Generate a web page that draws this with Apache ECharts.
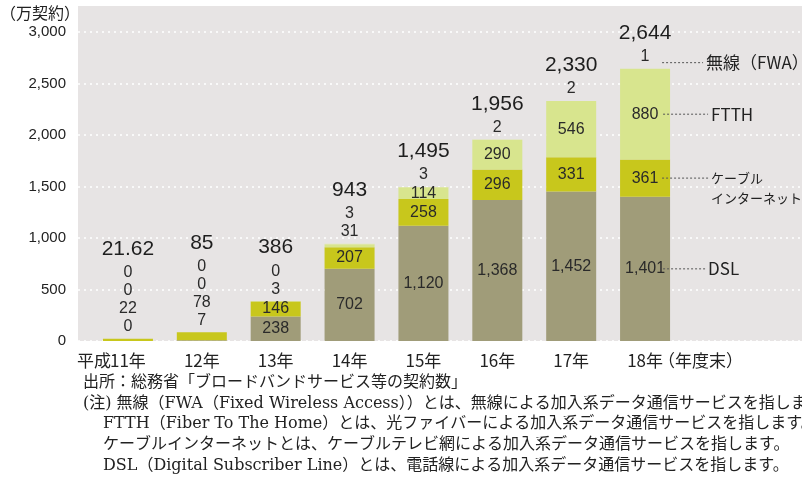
<!DOCTYPE html>
<html>
<head>
<meta charset="utf-8">
<script src="https://cdn.jsdelivr.net/npm/echarts@6/dist/echarts.min.js"></script>
<style>
    html, body { margin: 0; padding: 0; background: #fff; }
    #chart { width: 802px; height: 479px; }
</style>
</head>
<body>
<div id="chart"></div>
<script>
    // 年度末の契約数（万契約）
    const categories = ['平成11年', '12年', '13年', '14年', '15年', '16年', '17年', '18年（年度末）'];
    const dsl = [0, 7, 238, 702, 1120, 1368, 1452, 1401];
    const cable = [22, 78, 146, 207, 258, 296, 331, 361];
    const ftth = [0, 0, 3, 31, 114, 290, 546, 880];
    const fwa = [0, 0, 0, 3, 3, 2, 2, 1];
    const totals = [21.62, 85, 386, 943, 1495, 1956, 2330, 2644];
    // 下から何段目までを棒の中に表示するか
    const insideCount = [0, 0, 2, 2, 3, 3, 3, 3];
    const yMin = 0, yMax = 3000, yStep = 500;

    const numFont = "'Liberation Sans Narrow', 'Liberation Sans', sans-serif";
    const jpFont = "'Noto Sans CJK JP', sans-serif";
    const noteFont = "'DejaVu Serif', 'Noto Sans CJK JP', serif";
    const bgColor = '#e7e4e4';

    function fmt(n) {
        return String(n).replace(/\B(?=(\d{3})+(?!\d))/g, ',');
    }

    // 「平成11年」→「11年」、「18年（年度末）」→「18年」（前後は別に描く）
    function coreLabel(s) {
        return s.replace('平成', '').replace('（年度末）', '');
    }

    function insideLabel(level) {
        return {
            show: true,
            position: 'inside',
            fontFamily: numFont,
            fontSize: 16,
            color: '#2a2a2a',
            formatter: p => insideCount[p.dataIndex] > level ? fmt(p.value) : ''
        };
    }

    let myChart = echarts.init(document.getElementById('chart'));

    let option = {
        animation: false,
        grid: [
            { left: 78, right: 0, top: 32, bottom: 138, show: true, backgroundColor: bgColor, borderWidth: 0 },
            { left: 91, right: 120, top: 32, bottom: 138 }
        ],
        xAxis: [
            { gridIndex: 0, type: 'value', min: 0, max: 1, show: false },
            {
                gridIndex: 1,
                type: 'category',
                data: categories,
                axisLine: { show: false },
                axisTick: { show: false },
                axisLabel: {
                    interval: 0,
                    fontFamily: jpFont,
                    fontSize: 17,
                    color: '#222',
                    margin: 11,
                    formatter: coreLabel
                }
            }
        ],
        yAxis: [
            {
                gridIndex: 0,
                type: 'value',
                min: yMin,
                max: yMax,
                interval: yStep,
                axisLine: { show: false },
                axisTick: { show: false },
                axisLabel: { fontFamily: "'Liberation Sans', sans-serif", fontSize: 15, color: '#222', margin: 12, formatter: v => fmt(v) },
                splitLine: { lineStyle: { color: '#ffffff', width: 1.5, type: [2, 4] } }
            },
            { gridIndex: 1, type: 'value', min: yMin, max: yMax, show: false }
        ],
        series: [
            {
                name: 'DSL', type: 'bar', stack: 'all', xAxisIndex: 1, yAxisIndex: 1,
                barWidth: 50, data: dsl, itemStyle: { color: '#a09c79' }, label: insideLabel(0)
            },
            {
                name: 'ケーブルインターネット', type: 'bar', stack: 'all', xAxisIndex: 1, yAxisIndex: 1,
                barWidth: 50, data: cable, itemStyle: { color: '#c8c71c' }, label: insideLabel(1)
            },
            {
                name: 'FTTH', type: 'bar', stack: 'all', xAxisIndex: 1, yAxisIndex: 1,
                barWidth: 50, data: ftth, itemStyle: { color: '#d8e58e' }, label: insideLabel(2)
            },
            {
                name: '無線（FWA）', type: 'bar', stack: 'all', xAxisIndex: 1, yAxisIndex: 1,
                barWidth: 50, data: fwa, itemStyle: { color: '#e2ecae' },
                label: {
                    show: true,
                    position: 'top',
                    distance: 3,
                    formatter: p => {
                        let i = p.dataIndex;
                        let segs = [fwa[i], ftth[i], cable[i], dsl[i]];
                        let s = '{t|' + fmt(totals[i]) + '}';
                        for (let k = 0; k < 4 - insideCount[i]; k++) {
                            s += '\n{v|' + fmt(segs[k]) + '}';
                        }
                        return s;
                    },
                    rich: {
                        t: { fontFamily: numFont, fontSize: 21, color: '#1e1e1e', lineHeight: 29 },
                        v: { fontFamily: numFont, fontSize: 16, color: '#2a2a2a', lineHeight: 18 }
                    }
                }
            }
        ]
    };
    myChart.setOption(option);

    // 右側の凡例（18年の棒から点線で引き出す）
    const last = categories.length - 1;
    const px = (c, v) => myChart.convertToPixel({ gridIndex: 1 }, [c, v]);
    const cx = px(last, 0)[0];
    const labelY = px(0, 0)[1] + 20;
    const legendRows = [
        { y: px(last, totals[last])[1] - 6, x0: cx + 17, x1: cx + 58, size: 17, lines: ['無線（FWA）'] },
        { y: px(last, dsl[last] + cable[last] + ftth[last] / 2)[1], x0: cx + 18, x1: cx + 63, size: 17, lines: ['FTTH'] },
        { y: px(last, dsl[last] + cable[last] / 2)[1], x0: cx + 17, x1: cx + 63, size: 13, lines: ['ケーブル', 'インターネット'] },
        { y: px(last, dsl[last] / 2)[1], x0: cx + 18, x1: cx + 60, size: 17, lines: ['DSL'] }
    ];

    let graphics = [
        { type: 'rect', shape: { x: 78, y: 6, width: 724, height: 26 }, style: { fill: bgColor }, z: -1, silent: true },
        { type: 'text', x: 0, y: 13, style: { text: '（万契約）', font: '16px ' + jpFont, fill: '#222', textVerticalAlign: 'middle' } },
        // x軸ラベルの前後
        { type: 'text', x: px(0, 0)[0] - 17, y: labelY, style: { text: '平成', font: '17px ' + jpFont, fill: '#222', textAlign: 'right', textVerticalAlign: 'middle' } },
        { type: 'text', x: cx + 13, y: labelY, style: { text: '（年度末）', font: '17px ' + jpFont, fill: '#222', textVerticalAlign: 'middle' } }
    ];
    legendRows.forEach(r => {
        graphics.push({
            type: 'line', shape: { x1: r.x0, y1: r.y, x2: r.x1, y2: r.y },
            style: { stroke: '#555', lineWidth: 1, lineDash: [2, 2] }, z: 10
        });
        r.lines.forEach((t, k) => {
            graphics.push({
                type: 'text', x: r.x1 + 3, y: r.y + k * 20,
                style: { text: t, font: r.size + 'px ' + jpFont, fill: '#222', textVerticalAlign: 'middle' }, z: 10
            });
        });
    });

    // 出所・注
    const notes = [
        { x: 83, text: '出所：総務省「ブロードバンドサービス等の契約数」' },
        { x: 83, text: '(注) 無線（FWA（Fixed Wireless Access））とは、無線による加入系データ通信サービスを指します' },
        { x: 103, text: 'FTTH（Fiber To The Home）とは、光ファイバーによる加入系データ通信サービスを指します。' },
        { x: 103, text: 'ケーブルインターネットとは、ケーブルテレビ網による加入系データ通信サービスを指します。' },
        { x: 103, text: 'DSL（Digital Subscriber Line）とは、電話線による加入系データ通信サービスを指します。' }
    ];
    notes.forEach((n, k) => {
        graphics.push({
            type: 'text', x: n.x, y: 383 + k * 20.6,
            style: { text: n.text, font: '16px ' + noteFont, fill: '#222', textVerticalAlign: 'middle' }
        });
    });

    myChart.setOption({ graphic: graphics });
</script>
</body>
</html>
